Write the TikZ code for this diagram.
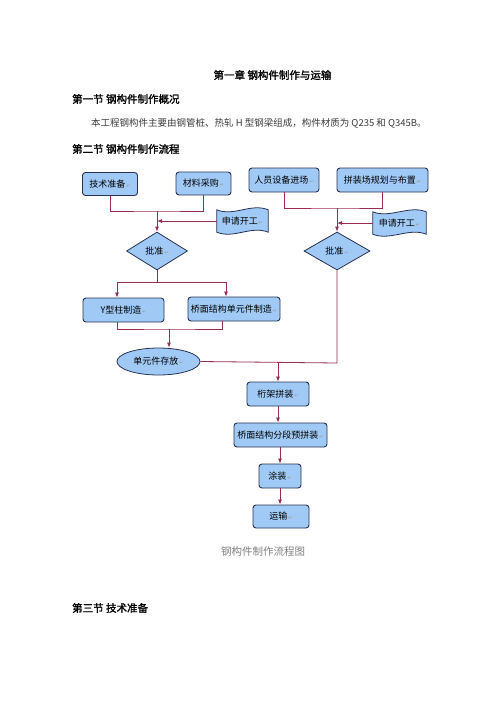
\documentclass[tikz,border=0pt]{standalone}
\usepackage{fontspec}
\setmainfont{Noto Sans CJK SC}
\newfontfamily\cjkb[FakeBold=1.6]{Noto Sans CJK SC}
\newfontfamily\djv{DejaVu Sans}
\usetikzlibrary{shapes.geometric,arrows.meta,backgrounds}
\definecolor{boxfill}{RGB}{160,202,245}
\definecolor{boxline}{RGB}{40,50,85}
\definecolor{connc}{RGB}{150,45,85}
\definecolor{bodytxt}{RGB}{60,60,60}
\newcommand\retm{{\djv\fontsize{5}{5}\selectfont\color{gray!80}\,↵}}
\begin{document}
\begin{tikzpicture}[x=1pt,y=-1pt,
  boxsty/.style={draw=boxline, line width=0.9pt, fill=boxfill, rounded corners=3pt, inner sep=0pt, font=\fontsize{9}{10}\selectfont},
  diamsty/.style={diamond, draw=boxline, line width=0.8pt, fill=boxfill, inner sep=0pt, font=\fontsize{9}{10}\selectfont},
  ellsty/.style={ellipse, draw=boxline, line width=0.8pt, fill=boxfill, inner sep=0pt, font=\fontsize{9}{10}\selectfont},
  tapesty/.style={draw=boxline, line width=0.8pt, fill=boxfill},
  tapenode/.style={inner sep=0pt, font=\fontsize{9}{10}\selectfont},
  conn/.style={draw=connc, line width=0.8pt},
  arr/.style={conn, -{Latex[length=5pt,width=4pt]}},
  headsty/.style={inner sep=0pt, anchor=west, font=\cjkb\fontsize{10.5}{12}\selectfont},
  bodysty/.style={inner sep=0pt, anchor=west, text=bodytxt, font=\fontsize{9.5}{12}\selectfont}
]
\useasboundingbox (0,0) rectangle (496,702);
\begin{scope}[on background layer]
\fill[white] (0,0) rectangle (496,702);
\end{scope}

% text
\node[inner sep=0pt, font=\cjkb\fontsize{10.5}{12}\selectfont] (h0) at (272.5,75) {第一章 钢构件制作与运输};
\node[headsty] (h1) at (72,99) {第一节 钢构件制作概况};
\node[bodysty] (b1) at (91,123) {本工程钢构件主要由钢管桩、热轧 H 型钢梁组成，构件材质为 Q235 和 Q345B。};
\node[headsty] (h2) at (72,149) {第二节 钢构件制作流程};
\node[inner sep=0pt, text=gray, font=\fontsize{10.5}{12}\selectfont] (cap) at (263,552) {钢构件制作流程图};
\node[headsty] (h3) at (72,608) {第三节 技术准备};

% boxes
\node[boxsty, minimum width=55pt, minimum height=23pt] (tech) at (110,184) {技术准备\retm};
\node[boxsty, minimum width=55pt, minimum height=23pt] (mat) at (203.5,183.5) {材料采购\retm};
\node[boxsty, minimum width=70pt, minimum height=24pt] (staff) at (284,180) {人员设备进场\retm};
\node[boxsty, minimum width=91pt, minimum height=24pt] (site) at (382.5,180) {拼装场规划与布置\retm};

\node[tapenode, minimum width=51pt, minimum height=22pt] (req1) at (242.5,221) {申请开工\retm};
\node[tapenode, minimum width=53pt, minimum height=22pt] (req2) at (399.5,223) {申请开工\retm};
\begin{scope}[on background layer]
\path[tapesty] (req1.north west) .. controls +(17,7) and +(-17,-7) .. (req1.north east) -- (req1.south east) .. controls +(-17,-7) and +(17,7) .. (req1.south west) -- cycle;
\path[tapesty] (req2.north west) .. controls +(17,7) and +(-17,-7) .. (req2.north east) -- (req2.south east) .. controls +(-17,-7) and +(17,7) .. (req2.south west) -- cycle;
\end{scope}

\node[diamsty, minimum width=61pt, minimum height=38pt, shape aspect=1.6] (app1) at (157,251) {批准\retm};
\node[diamsty, minimum width=66pt, minimum height=38pt, shape aspect=1.7] (app2) at (337,251) {批准\retm};

\node[boxsty, minimum width=81pt, minimum height=24pt] (ycol) at (123.5,310) {Y型柱制造\retm};
\node[boxsty, minimum width=92pt, minimum height=24pt] (deck) at (234,309) {桥面结构单元件制造\retm};
\node[ellsty, minimum width=83pt, minimum height=27pt] (store) at (158.5,361.5) {单元件存放\retm};

\node[boxsty, minimum width=62pt, minimum height=24pt] (truss) at (278,394) {桁架拼装\retm};
\node[boxsty, minimum width=93pt, minimum height=24pt] (pre) at (280.5,435) {桥面结构分段预拼装\retm};
\node[boxsty, minimum width=42pt, minimum height=24pt] (paint) at (280,476) {涂装\retm};
\node[boxsty, minimum width=56pt, minimum height=23pt] (ship) at (281,516.5) {运输\retm};

% junctions
\coordinate (j1) at (157,211);
\coordinate (j2) at (337,208);
\coordinate (j3) at (157,282);
\coordinate (j4) at (169,329);
\coordinate (j5) at (337,363);
\coordinate (j6) at (278,363);

% connectors
\draw[conn] (tech.south) |- (j1) -| (mat.south);
\draw[arr] (j1) -- (app1.north);
\draw[arr] (req1.west) -- (req1.west -| app1.north);
\draw[conn] (staff.south) |- (j2) -| (site.south);
\draw[arr] (j2) -- (app2.north);
\draw[arr] (req2.west) -- (req2.west -| app2.north);

\draw[conn] (app1.south) -- (j3);
\draw[arr] (j3) -| ([xshift=-6.5pt]ycol.north);
\draw[arr] (j3) -| ([xshift=-8pt]deck.north);
\draw[conn] ([xshift=-6.5pt]ycol.south) |- (j4) -| ([xshift=-12pt]deck.south);
\draw[arr] (j4) -- (j4 |- store.north);

\draw[conn] (app2.south) -- (j5) -- (store.east);
\draw[arr] (j6) -- (truss.north);
\draw[arr] (truss.south) -- (truss.south |- pre.north);
\draw[arr] (paint.north |- pre.south) -- (paint.north);
\draw[arr] (paint.south) -- (paint.south |- ship.north);
\end{tikzpicture}
\end{document}
